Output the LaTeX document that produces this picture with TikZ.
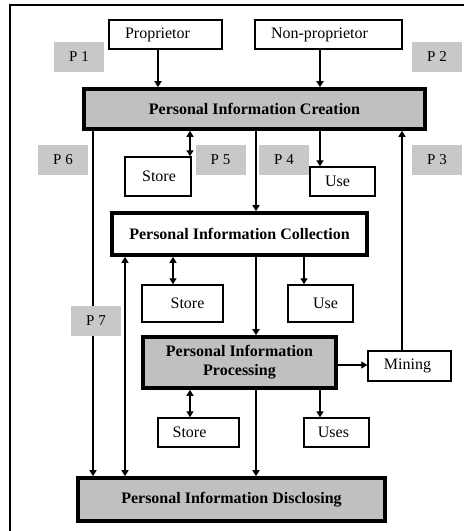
\documentclass[tikz,border=0pt]{standalone}
\usepackage{fontspec}
\setmainfont{Liberation Serif}
\usetikzlibrary{arrows.meta}
\definecolor{boxgray}{RGB}{192,192,192}
\definecolor{taggray}{RGB}{200,200,200}
\begin{document}
\begin{tikzpicture}[x=1pt,y=-1pt,
  every node/.style={inner sep=0pt},
  every label/.style={font=\fontsize{16}{19}\selectfont},
  thinbox/.style={draw, line width=1.4pt, fill=white},
  thickbox/.style={draw, line width=3.6pt, align=center,
    font=\bfseries\fontsize{16}{19}\selectfont},
  tag/.style={fill=taggray, minimum width=50pt, minimum height=30pt,
    font=\fontsize{15}{18}\selectfont},
  link/.style={line width=1.3pt},
  arr/.style={link, -{Triangle[length=6pt,width=7pt]}},
  darr/.style={link, {Triangle[length=6pt,width=7pt]}-{Triangle[length=6pt,width=7pt]}}]
\useasboundingbox (0,0) rectangle (464,531);

% frame
\draw[line width=1.5pt] (10,531) -- (10,5) -- (464,5);

% sources
\node[thinbox, minimum width=113pt, minimum height=29pt,
  label={[xshift=-8pt]center:Proprietor}] (prop) at (165.5,34.5) {};
\node[thinbox, minimum width=147pt, minimum height=29pt,
  label={[xshift=-9pt]center:Non-proprietor}] (nonprop) at (328.5,34.5) {};

% main stages
\node[thickbox, fill=boxgray, minimum width=341pt, minimum height=40pt]
  (create) at (254.5,109) {Personal Information Creation};
\node[thickbox, fill=white, minimum width=255pt, minimum height=42pt]
  (collect) at (239.5,234) {Personal Information Collection};
\node[thickbox, fill=boxgray, minimum width=193pt, minimum height=51pt]
  (proc) at (239.5,362.5) {Personal Information\\Processing};
\node[thickbox, fill=boxgray, minimum width=307pt, minimum height=43pt]
  (disclose) at (231.5,499.5) {Personal Information Disclosing};

% side boxes
\node[thinbox, minimum width=66pt, minimum height=39pt,
  label={[xshift=1pt]center:Store}] (store1) at (158,176.5) {};
\node[thinbox, minimum width=65pt, minimum height=29pt,
  label={[xshift=-5pt]center:Use}] (use1) at (342.5,181.5) {};
\node[thinbox, minimum width=81pt, minimum height=37pt,
  label={[xshift=5pt]center:Store}] (store2) at (182.5,303.5) {};
\node[thinbox, minimum width=65pt, minimum height=37pt,
  label={[xshift=5pt]center:Use}] (use2) at (320.5,303.5) {};
\node[thinbox, minimum width=81pt, minimum height=29pt,
  label={[xshift=-9pt]center:Store}] (store3) at (198.5,432.5) {};
\node[thinbox, minimum width=65pt, minimum height=29pt,
  label={[xshift=-3pt]center:Uses}] (uses) at (336.5,432.5) {};
\node[thinbox, minimum width=83pt, minimum height=30pt,
  label={[xshift=-2pt]center:Mining}] (mining) at (409.5,366) {};

% sources into creation
\draw[arr] (prop.south -| 158,0) -- (158,0 |- create.north);
\draw[arr] (nonprop.south -| 320,0) -- (320,0 |- create.north);

% from creation
\draw[arr] (create.south -| 93,0) -- (93,0 |- disclose.north);
\draw[darr] (create.south -| 190,0) -- (190,0 |- store1.north);
\draw[arr] (create.south -| 256,0) -- (256,0 |- collect.north);
\draw[arr] (create.south -| 320,0) -- (320,0 |- use1.north);
\draw[arr] (mining.north -| 402,0) -- (402,0 |- create.south);

% from collection
\draw[darr] (disclose.north -| 125,0) -- (125,0 |- collect.south);
\draw[darr] (collect.south -| 173,0) -- (173,0 |- store2.north);
\draw[arr] (collect.south -| 304,0) -- (304,0 |- use2.north);
\draw[arr] (collect.south -| 256,0) -- (256,0 |- proc.north);

% from processing
\draw[arr] (proc.east |- 0,365) -- (mining.west |- 0,365);
\draw[darr] (proc.south -| 190,0) -- (190,0 |- store3.north);
\draw[arr] (proc.south -| 320,0) -- (320,0 |- uses.north);
\draw[arr] (proc.south -| 256,0) -- (256,0 |- disclose.north);

% path tags, laid over the connectors
\node[tag] (p1) at (79,57) {P 1};
\node[tag] (p2) at (437,57) {P 2};
\node[tag] (p6) at (63,160) {P 6};
\node[tag] (p5) at (220.5,160) {P 5};
\node[tag] (p4) at (284,160) {P 4};
\node[tag] (p3) at (437,160) {P 3};
\node[tag] (p7) at (96,321) {P 7};
\end{tikzpicture}
\end{document}
